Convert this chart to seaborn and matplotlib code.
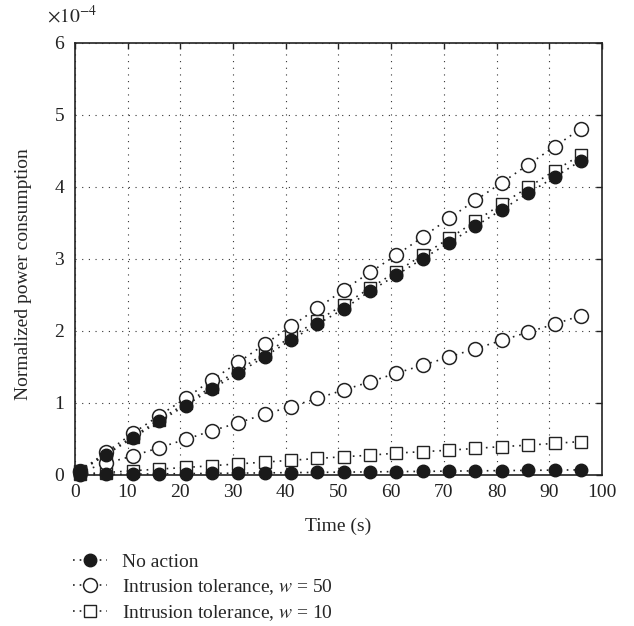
import numpy as np
import pandas as pd
import matplotlib
matplotlib.use("Agg")
import matplotlib.pyplot as plt
import seaborn as sns
from matplotlib.lines import Line2D

# Sample times (s)
time_s = [1, 6, 11, 16, 21, 26, 31, 36, 41, 46, 51, 56, 61, 66, 71, 76, 81, 86, 91, 96]

# Normalized power consumption, in units of 1e-4
# Heavier scenario
no_action_high = [0.05, 0.28, 0.51, 0.74, 0.96, 1.19, 1.41, 1.64, 1.87, 2.09,
                  2.30, 2.55, 2.77, 3.00, 3.22, 3.45, 3.68, 3.91, 4.13, 4.36]
tol50_high = [0.05, 0.315, 0.575, 0.82, 1.06, 1.315, 1.56, 1.81, 2.06, 2.31,
              2.565, 2.81, 3.05, 3.30, 3.56, 3.81, 4.055, 4.305, 4.555, 4.805]
tol10_high = [0.05, 0.29, 0.53, 0.76, 0.99, 1.22, 1.45, 1.68, 1.91, 2.14,
              2.36, 2.59, 2.82, 3.05, 3.28, 3.52, 3.76, 3.99, 4.22, 4.44]
# Lighter scenario
no_action_low = [0.0, 0.004, 0.008, 0.011, 0.015, 0.018, 0.022, 0.025, 0.029, 0.032,
                 0.036, 0.039, 0.043, 0.046, 0.05, 0.053, 0.057, 0.06, 0.064, 0.067]
tol50_low = [0.04, 0.16, 0.26, 0.375, 0.49, 0.61, 0.72, 0.84, 0.945, 1.06,
             1.176, 1.29, 1.41, 1.52, 1.635, 1.75, 1.865, 1.98, 2.09, 2.21]
tol10_low = [0.01, 0.03, 0.055, 0.078, 0.10, 0.125, 0.15, 0.175, 0.20, 0.225,
             0.25, 0.27, 0.30, 0.32, 0.34, 0.365, 0.39, 0.41, 0.435, 0.46]

legend_labels = ["No action",
                 "Intrusion tolerance, $w$ = 50",
                 "Intrusion tolerance, $w$ = 10"]

sns.set_style("white")
plt.rcParams["font.family"] = ["Liberation Serif", "DejaVu Serif"]
plt.rcParams["mathtext.fontset"] = "stix"
plt.rcParams["axes.unicode_minus"] = True

fig = plt.figure(figsize=(6.34, 6.26), dpi=100)
ax = fig.add_axes([0.118, 0.2417, 0.8315, 0.6903])

scale = 1e-4
styles = {
    "square": dict(marker="s", markersize=8.5, markerfacecolor="white",
                   markeredgecolor="#222222", markeredgewidth=1.0),
    "open": dict(marker="o", markersize=10, markerfacecolor="white",
                 markeredgecolor="#222222", markeredgewidth=1.1),
    "filled": dict(marker="o", markersize=9, markerfacecolor="#1a1a1a",
                   markeredgecolor="#1a1a1a", markeredgewidth=1.0),
}
line_kw = dict(color="#222222", linestyle=(0, (1, 3)), linewidth=1.2)

series = [
    (tol10_low, "square"), (tol10_high, "square"),
    (tol50_low, "open"), (tol50_high, "open"),
    (no_action_low, "filled"), (no_action_high, "filled"),
]
for z, (vals, kind) in enumerate(series):
    df = pd.DataFrame({"t": time_s, "p": np.array(vals) * scale})
    sns.lineplot(data=df, x="t", y="p", ax=ax, zorder=3 + z,
                 clip_on=False, **line_kw, **styles[kind])

ax.set_xlim(0, 100)
ax.set_ylim(0, 6e-4)
ax.set_xticks(np.arange(0, 101, 10))
ax.set_yticks(np.arange(0, 6.01e-4, 1e-4))
ax.ticklabel_format(axis="y", style="sci", scilimits=(0, 0), useMathText=True)
# exponent label placed above the y axis, left of the frame
ax.yaxis.get_offset_text().set_visible(False)
fig.text(47 / 634, 1 - 23 / 626, r"$\times 10^{-4}$", fontsize=14,
         ha="left", va="baseline")

ax.grid(True, color="#333333", linestyle=(0, (1, 5)), linewidth=0.8)
ax.tick_params(direction="in", length=4, width=1, labelsize=14, pad=7,
               top=True, right=True, colors="#222222")
for s in ax.spines.values():
    s.set_color("#222222")
    s.set_linewidth(1.2)
    s.set_visible(True)

ax.set_xlabel("Time (s)", fontsize=14, labelpad=12)
ax.set_ylabel("Normalized power consumption", fontsize=14)
ax.yaxis.set_label_coords(-0.082, 0.465)

handles = [
    Line2D([], [], **line_kw, **styles["filled"]),
    Line2D([], [], **line_kw, **styles["open"]),
    Line2D([], [], **line_kw, **styles["square"]),
]
fig.legend(handles, legend_labels, loc="upper left",
           bbox_to_anchor=(0.103, 0.128), frameon=False, fontsize=14,
           handlelength=1.75, handletextpad=0.75, labelspacing=0.3,
           borderaxespad=0)

fig.savefig("out.png", dpi=100, facecolor="white")
